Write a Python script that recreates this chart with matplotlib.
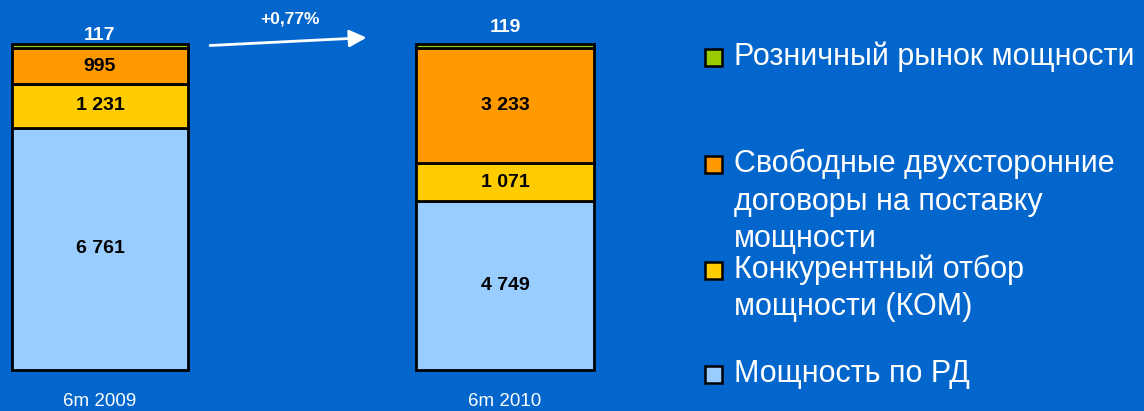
import numpy as np
import matplotlib.pyplot as plt
from matplotlib.patches import Rectangle

plt.rcParams['font.family'] = ['Liberation Sans', 'DejaVu Sans']

# данные
periods = ["6m 2009", "6m 2010"]
rd = [6761, 4749]
kom = [1231, 1071]
sdd = [995, 3233]
retail = [117, 119]
change_label = "+0,77%"

series_names = ["Розничный рынок мощности",
                "Свободные двухсторонние\nдоговоры на поставку\nмощности",
                "Конкурентный отбор\nмощности (КОМ)",
                "Мощность по РД"]
colors = ["#99CC00", "#FF9900", "#FFCC00", "#99CCFF"]
bg = "#0366CC"

def fmt(v):
    return f"{v:,}".replace(",", " ")

fig = plt.figure(figsize=(11.44, 4.11), dpi=100, facecolor=bg)
W, H = 1144, 411
ax = fig.add_axes([0, (H - 370) / H, 690 / W, (370 - 44) / H])
ax.set_facecolor(bg)
ax.axis("off")

x = np.arange(len(periods))
totals = np.array(rd) + np.array(kom) + np.array(sdd) + np.array(retail)
stack = [(rd, colors[3]), (kom, colors[2]), (sdd, colors[1]), (retail, colors[0])]
bottom = np.zeros(len(x))
width = 177 / 405
for vals, c in stack:
    h = np.array(vals) / totals
    bars = ax.bar(x, h, width, bottom=bottom, color=c, edgecolor="black", linewidth=2)
    for b in bars:
        b.set_clip_on(False)
    if vals is not retail:
        for xi, b, hi, v in zip(x, bottom, h, vals):
            ax.text(xi, b + hi / 2, fmt(v), ha="center", va="center",
                    fontsize=14, fontweight="bold", color="black")
    bottom = bottom + h

ax.set_xlim(-100 / 405, (690 - 100) / 405)
ax.set_ylim(0, 1)

# подписи сверху (розничный рынок)
ax.text(x[0], 1.0, fmt(retail[0]), ha="center", va="bottom", fontsize=14,
        fontweight="bold", color="white")
ax.text(x[1], 1.025, fmt(retail[1]), ha="center", va="bottom", fontsize=14,
        fontweight="bold", color="white")

for xi, p in zip(x, periods):
    ax.text(xi, -0.07, p, ha="center", va="top", fontsize=13.5, color="white")

# стрелка
ax.annotate("", xy=(0.665, 1.02), xytext=(0.265, 0.995),
            arrowprops=dict(arrowstyle="-|>", color="white", lw=2,
                            mutation_scale=26), annotation_clip=False)
ax.text(0.47, 1.055, change_label, ha="center", va="bottom", fontsize=12.5,
        fontweight="bold", color="white")

# легенда
legend_y = [57, 164, 270, 374]
for name, c, yy in zip(series_names, colors, legend_y):
    fig.patches.append(Rectangle((705 / W, (H - yy - 9) / H), 17 / W, 17 / H,
                                 transform=fig.transFigure, facecolor=c,
                                 edgecolor="black", linewidth=1.8))
    for i, ln in enumerate(name.split("\n")):
        fig.text(734 / W, (H - yy - i * 37.5) / H, ln, ha="left", va="center",
                 fontsize=22, color="white")

fig.savefig("out.png", dpi=100, facecolor=bg)
